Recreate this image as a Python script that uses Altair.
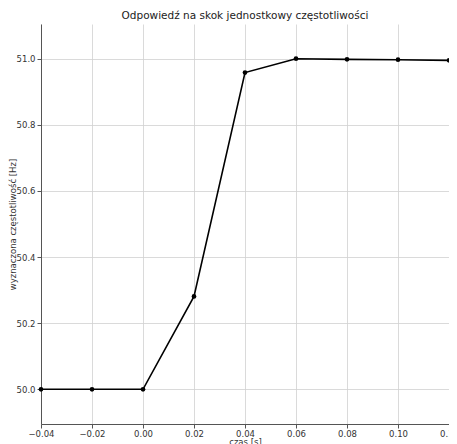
import altair as alt
import pandas as pd

czas = [-0.04, -0.02, 0.00, 0.02, 0.04, 0.06, 0.08, 0.10, 0.12]
freq = [50.0, 50.0, 50.0, 50.281, 50.958, 51.0, 50.998, 50.997, 50.995]
x_ticks = [-0.04, -0.02, 0.0, 0.02, 0.04, 0.06, 0.08, 0.10, 0.12]
y_ticks = [50.0, 50.2, 50.4, 50.6, 50.8, 51.0]

df = pd.DataFrame({"czas": czas, "f": freq})

x = alt.X("czas:Q", title="czas [s]",
          scale=alt.Scale(domain=[-0.04, 0.12], nice=False, zero=False),
          axis=alt.Axis(values=x_ticks, format=".2f", titlePadding=0, labelPadding=1,
                        labelFlush=False, labelOverlap=False,
                        titleFontWeight="normal", titleFontSize=8.5))
y = alt.Y("f:Q", title="wyznaczona częstotliwość [Hz]",
          scale=alt.Scale(domain=[49.895, 51.105], nice=False, zero=False),
          axis=alt.Axis(values=y_ticks, format=".1f", labelPadding=2,
                        titleX=-29, titleBaseline="middle",
                        titleFontWeight="normal", titleFontSize=8.5))

line = alt.Chart(df).mark_line(color="black", strokeWidth=1.6).encode(x=x, y=y)
pts = alt.Chart(df).mark_circle(color="black", size=22, opacity=1).encode(x=x, y=y)

chart = (line + pts).properties(
    width=408, height=400,
    title=alt.TitleParams("Odpowiedź na skok jednostkowy częstotliwości",
                          fontSize=10.5, fontWeight="normal", color="#222", offset=3),
    autosize=alt.AutoSizeParams(type="none"),
    padding={"left": 33, "top": 16, "right": 0, "bottom": 20},
).configure_view(stroke=None).configure_axis(
    grid=True, gridColor="#d0d0d0", gridWidth=0.8,
    domainColor="#555", tickColor="#555", tickSize=4,
    labelFontSize=8.5, labelColor="#333", titleColor="#333",
    labelFont="DejaVu Sans", titleFont="DejaVu Sans",
).configure_title(font="DejaVu Sans")

chart.save("out.html", embed_options={"renderer": "svg", "actions": False})
